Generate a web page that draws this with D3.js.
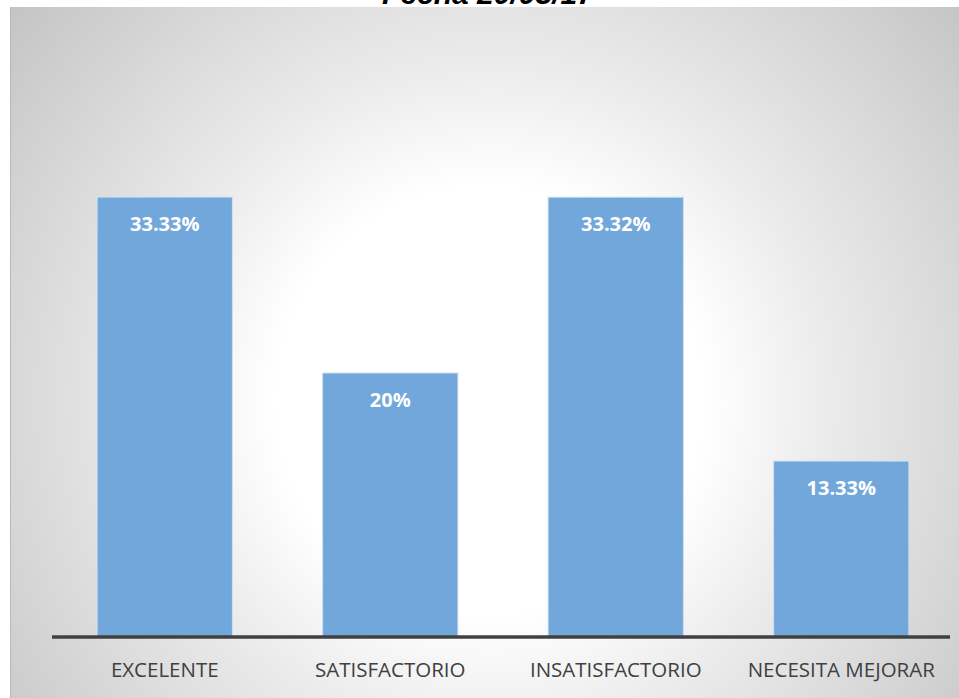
<!DOCTYPE html>
<html>
<head>
<meta charset="utf-8">
<script src="https://cdn.jsdelivr.net/npm/d3@7"></script>
<style>
  body { margin: 0; background: #fff; }
</style>
</head>
<body>
<div id="chart"></div>
<script>
// data
const categories = ["EXCELENTE", "SATISFACTORIO", "INSATISFACTORIO", "NECESITA MEJORAR"];
const values = [33.33, 20, 33.32, 13.33];
const valueLabels = ["33.33%", "20%", "33.32%", "13.33%"];
const titleText = "Fecha 20/03/17";

const W = 959, H = 698;
const PANEL = { left: 10, top: 7 };
const PLOT = { left: 52, right: 954, bottom: 637 };

const svg = d3.select("#chart").append("svg")
    .attr("width", W)
    .attr("height", H);

// radial background like the spreadsheet chart area
const defs = svg.append("defs");
const grad = defs.append("radialGradient")
    .attr("id", "bg")
    .attr("gradientUnits", "userSpaceOnUse")
    .attr("cx", 490).attr("cy", 400).attr("r", 650);
grad.append("stop").attr("offset", "0%").attr("stop-color", "#ffffff");
grad.append("stop").attr("offset", "33%").attr("stop-color", "#ffffff");
grad.append("stop").attr("offset", "52%").attr("stop-color", "#ebebeb");
grad.append("stop").attr("offset", "100%").attr("stop-color", "#c0c0c0");

svg.append("rect")
    .attr("x", PANEL.left)
    .attr("y", PANEL.top)
    .attr("width", W - PANEL.left)
    .attr("height", H - PANEL.top)
    .attr("fill", "url(#bg)");
svg.append("line")
    .attr("x1", PANEL.left + 0.5).attr("x2", PANEL.left + 0.5)
    .attr("y1", PANEL.top).attr("y2", H)
    .attr("stroke", "#b8b8b8");

// title, mostly cut off at the top as in the original
svg.append("text")
    .attr("x", 488)
    .attr("y", 4)
    .attr("text-anchor", "middle")
    .style("font-family", "'Liberation Sans', Arial, sans-serif")
    .style("font-weight", "bold")
    .style("font-style", "italic")
    .style("font-size", "30px")
    .attr("fill", "#000")
    .text(titleText);

// scales
const x = d3.scaleBand()
    .domain(categories)
    .range([PLOT.left, PLOT.right])
    .paddingInner(0.4)
    .paddingOuter(0.2);

const y = d3.scaleLinear()
    .domain([0, 40])
    .range([PLOT.bottom, PLOT.bottom - 40 * 13.2]);

// bars
svg.append("g").selectAll("rect")
    .data(values)
    .join("rect")
    .attr("x", (d, i) => x(categories[i]))
    .attr("y", d => y(d))
    .attr("width", x.bandwidth())
    .attr("height", d => y(0) - y(d))
    .attr("fill", "#71a7db")
    .attr("stroke", "#cfe0f1")
    .attr("stroke-width", 1);

// value labels inside the bars
svg.append("g").selectAll("text")
    .data(values)
    .join("text")
    .attr("x", (d, i) => x(categories[i]) + x.bandwidth() / 2)
    .attr("y", d => y(d) + 34)
    .attr("text-anchor", "middle")
    .style("font-family", "'Open Sans', 'Noto Sans', sans-serif")
    .style("font-weight", "bold")
    .style("font-size", "20px")
    .attr("fill", "#ffffff")
    .text((d, i) => valueLabels[i]);

// x axis
const xAxis = svg.append("g")
    .attr("transform", "translate(0," + PLOT.bottom + ")")
    .call(d3.axisBottom(x).tickSize(0).tickPadding(25));
xAxis.select(".domain")
    .attr("d", "M" + PLOT.left + ",0H" + 950)
    .attr("stroke", "#404040")
    .attr("stroke-width", 3.5);
xAxis.selectAll("text")
    .style("font-family", "'Open Sans', 'Noto Sans', sans-serif")
    .style("font-size", "20.5px")
    .attr("fill", "#404040");
</script>
</body>
</html>
